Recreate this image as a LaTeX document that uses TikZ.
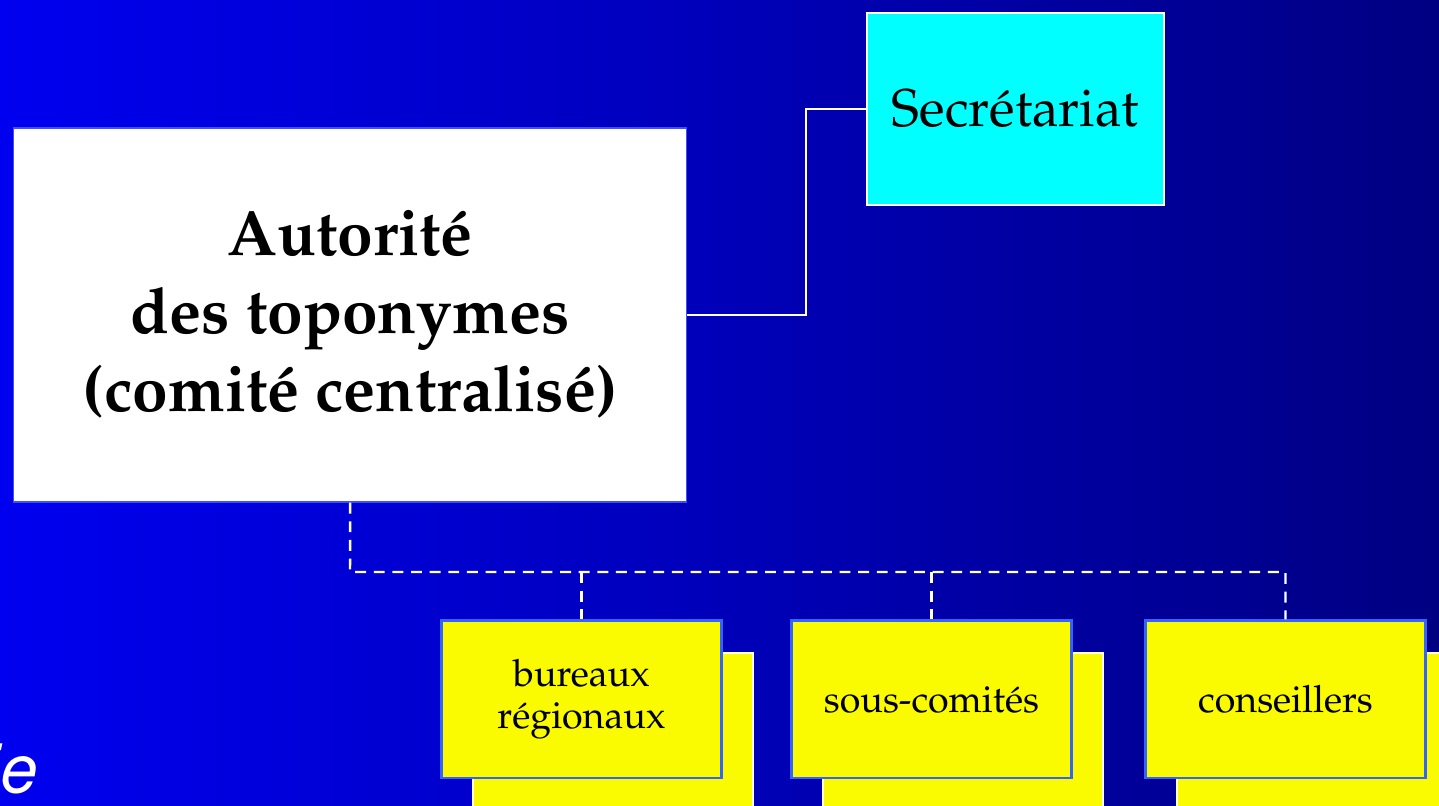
\documentclass[tikz,border=0pt]{standalone}
\usepackage[T1]{fontenc}
\renewcommand{\rmdefault}{ppl}
\renewcommand{\sfdefault}{phv}
\usetikzlibrary{positioning}
\definecolor{bgleft}{RGB}{0,0,240}
\definecolor{bgright}{RGB}{0,0,130}
\definecolor{frontedge}{RGB}{50,100,255}
\definecolor{authedge}{RGB}{60,80,255}
\definecolor{unitfill}{RGB}{250,250,0}
\definecolor{secrfill}{RGB}{0,255,255}
\begin{document}
\begin{tikzpicture}[semithick,
  unit/.style={minimum width=2.8cm, minimum height=1.57cm, anchor=west, fill=unitfill,
    font=\fontsize{10.7}{12}\selectfont, align=center, inner sep=0pt},
  unitfront/.style={unit, draw=frontedge, line width=0.85pt},
  unitback/.style={unit, draw=white, line width=0.6pt},
  link/.style={white, line width=0.7pt},
  dashlink/.style={link, dash pattern=on 3.1pt off 2.2pt}]

\fill [left color=bgleft, right color=bgright] (0,0) rectangle (14.39,-8.06);
\useasboundingbox (0,0) rectangle (14.39,-8.06);

\node (auth) at (0.13,-3.15) [minimum width=6.73cm, minimum height=3.74cm, anchor=west,
  fill=white, draw=authedge, line width=0.4pt, align=center,
  font=\bfseries\fontsize{18.2}{22.2}\selectfont] {Autorité\\des toponymes\\(comité centralisé)};

\node (secr) at (8.66,-1.09) [minimum width=2.97cm, minimum height=1.92cm, anchor=west,
  fill=secrfill, draw=white, line width=0.6pt,
  font=\fontsize{15.1}{17}\selectfont] {Secrétariat};

% back sheets first
\node (burb) at (4.72,-7.315) [unitback] {};
\node (sousb) at (8.22,-7.315) [unitback] {};
\node (consb) at (11.76,-7.315) [unitback] {};

\node (bur) at (4.40,-6.995) [unitfront] {bureaux\\régionaux};
\node (sous) at (7.90,-6.995) [unitfront] {sous-comités};
\node (cons) at (11.44,-6.995) [unitfront] {conseillers};

\coordinate (bend) at (8.06,-3.15);
\coordinate (bus) at (3.50,-5.72);

\draw [link] (auth.east) -- (bend) |- (secr.west);
\draw [dashlink] (auth.south) -- (bus) -| (cons.north);
\draw [dashlink] (bus -| bur.north) -- (bur.north);
\draw [dashlink] (bus -| sous.north) -- (sous.north);

\node (ie) at (0.36,-7.93) [anchor=base east, text=white, inner sep=0pt,
  font=\sffamily\slshape\fontsize{19}{23}\selectfont] {ie};

\end{tikzpicture}
\end{document}
